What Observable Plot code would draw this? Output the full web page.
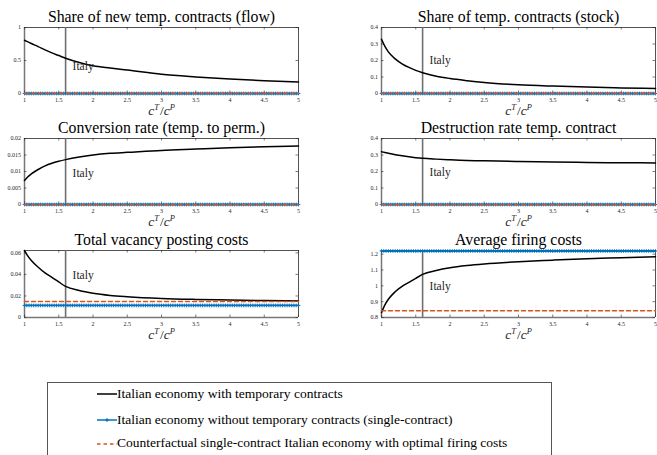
<!DOCTYPE html>
<html><head><meta charset="utf-8">
<script src="https://cdn.jsdelivr.net/npm/d3@7"></script>
<script src="https://cdn.jsdelivr.net/npm/@observablehq/plot@0.6"></script>
<style>
html,body{margin:0;padding:0;background:#fff;}
#wrap{position:relative;width:657px;height:455px;overflow:hidden;background:#fff;font-family:"Liberation Serif";}
#wrap svg{position:absolute;}
#wrap svg text{font-family:"Liberation Serif";}
.leg{position:absolute;font-family:"Liberation Serif";font-size:13.5px;line-height:14px;color:#000;white-space:nowrap;}
</style></head>
<body><div id="wrap"></div>
<script>
// ---- data ----
const xGrid = [1, 1.05, 1.1, 1.2, 1.3, 1.4, 1.5, 1.6, 1.8, 2, 2.25, 2.5, 3, 3.5, 4, 4.5, 5];
const flowShare   = [0.807, 0.782, 0.757, 0.71, 0.66, 0.615, 0.575, 0.535, 0.47, 0.42, 0.385, 0.355, 0.29, 0.25, 0.218, 0.193, 0.173];
const stockShare  = [0.329, 0.285, 0.252, 0.21, 0.18, 0.158, 0.14, 0.126, 0.105, 0.091, 0.078, 0.067, 0.053, 0.045, 0.039, 0.034, 0.03];
const conversion  = [0.0073, 0.0084, 0.0093, 0.0106, 0.0117, 0.0125, 0.0131, 0.0136, 0.0144, 0.015, 0.0155, 0.0158, 0.0164, 0.0168, 0.0172, 0.0175, 0.0177];
const destruction = [0.32, 0.315, 0.31, 0.302, 0.295, 0.289, 0.284, 0.28, 0.275, 0.271, 0.267, 0.265, 0.261, 0.258, 0.255, 0.253, 0.252];
const vacancy     = [0.0622, 0.057, 0.0529, 0.0467, 0.0414, 0.0373, 0.033, 0.0289, 0.025, 0.0225, 0.0205, 0.0193, 0.0177, 0.0168, 0.0162, 0.0157, 0.0154];
const firing      = [0.831, 0.88, 0.915, 0.963, 0.997, 1.022, 1.047, 1.072, 1.097, 1.114, 1.128, 1.138, 1.152, 1.162, 1.171, 1.177, 1.183];
const series = [flowShare, stockShare, conversion, destruction, vacancy, firing];
const titles = ["Share of new temp. contracts (flow)", "Share of temp. contracts (stock)",
  "Conversion rate (temp. to perm.)", "Destruction rate temp. contract",
  "Total vacancy posting costs", "Average firing costs"];
const singleContract = [0, 0, 0, 0, 0.0112, 1.22];      // blue, flat
const counterfactual = [0, 0, 0, 0, 0.0149, 0.842];     // red dashed, flat
const yDomains = [[0, 1], [0, 0.4], [0, 0.02], [0, 0.4], [0, 0.0622], [0.8, 1.223]];
const yTicks = [[0, 0.5, 1], [0, 0.1, 0.2, 0.3, 0.4], [0, 0.005, 0.01, 0.015, 0.02],
  [0, 0.1, 0.2, 0.3, 0.4], [0, 0.02, 0.04, 0.06], [0.8, 0.9, 1, 1.1, 1.2]];
const xTicks = [1, 1.5, 2, 2.5, 3, 3.5, 4, 4.5, 5];
const italyX = 1.6;
const italyLabelY = [0.41, 0.2, 0.0095, 0.195, 0.039, 1.0];
const markerX = d3.range(121).map(i => 1 + i / 30);
const legendLabels = ["Italian economy with temporary contracts",
  "Italian economy without temporary contracts (single-contract)",
  "Counterfactual single-contract Italian economy with optimal firing costs"];

const BLUE = "#0072BD", RED = "#D95319", AX = "#262626", GRAY = "#777777";
const FONT = '"Liberation Serif"';
const wrap = document.getElementById("wrap");

const colLeft = [24, 381];
const rowTop = [26.5, 138, 249.5];
const rowH = [66, 66, 67];

function panel(i) {
  const col = i % 2, row = Math.floor(i / 2);
  const mL = 26, mR = col ? 8 : 32, mT = 26, mB = 28;
  const fw = 274, fh = rowH[row];
  const width = mL + fw + mR, height = mT + fh + mB;
  const curve = xGrid.map((x, j) => ({x, y: series[i][j]}));
  const bl = markerX.map(x => ({x, y: singleContract[i]}));
  const rd = [{x: 1, y: counterfactual[i]}, {x: 5, y: counterfactual[i]}];
  const [y0, y1] = yDomains[i];
  const svg = Plot.plot({
    width, height, marginLeft: mL, marginRight: mR, marginTop: mT, marginBottom: mB,
    x: {domain: [1, 5]},
    y: {domain: yDomains[i]},
    style: {fontFamily: FONT, background: "transparent", overflow: "visible", color: AX},
    marks: [
      Plot.ruleY([y1], {stroke: AX, strokeWidth: 0.8}),
      Plot.ruleX([5], {stroke: AX, strokeWidth: 0.8}),
      Plot.ruleX([1], {stroke: GRAY, strokeWidth: 1.5}),
      Plot.ruleY([y0], {stroke: GRAY, strokeWidth: 1.5}),
      Plot.tickX(xTicks, {x: d => d, insetTop: fh - 2.5, stroke: AX, strokeWidth: 0.6}),
      Plot.tickX(xTicks, {x: d => d, insetBottom: fh - 2.5, stroke: AX, strokeWidth: 0.6}),
      Plot.tickY(yTicks[i], {y: d => d, insetRight: fw - 2.5, stroke: AX, strokeWidth: 0.6}),
      Plot.tickY(yTicks[i], {y: d => d, insetLeft: fw - 2.5, stroke: AX, strokeWidth: 0.6}),
      Plot.axisX({ticks: xTicks, tickSize: 0, tickPadding: 4, fontSize: 6, tickFormat: d => String(d), label: null, fill: AX}),
      Plot.axisY({ticks: yTicks[i], tickSize: 0, tickPadding: 3.5, fontSize: 6, tickFormat: d => String(d), label: null, fill: AX}),
      Plot.ruleX([italyX], {stroke: "#6f6f6f", strokeWidth: 1.6}),
      Plot.line(curve, {x: "x", y: "y", stroke: "black", strokeWidth: 1.5, curve: "monotone-x"}),
      Plot.line(bl, {x: "x", y: "y", stroke: BLUE, strokeWidth: 1.8}),
      Plot.dot(bl, {x: "x", y: "y", symbol: "plus", r: 1.3, stroke: BLUE, strokeWidth: 0.9}),
      Plot.line(rd, {x: "x", y: "y", stroke: RED, strokeWidth: 1.5, strokeDasharray: "4,3"}),
      Plot.text(["Italy"], {x: () => italyX, y: () => italyLabelY[i], text: d => d, dx: 7, textAnchor: "start", fontSize: 11.5, fill: AX}),
      Plot.text([titles[i]], {text: d => d, frameAnchor: "top", lineAnchor: "bottom", dy: -5.5, fontSize: 15.8, fill: "black"}),
      Plot.text(["cT/cP"], {text: d => d, frameAnchor: "bottom", lineAnchor: "bottom", dy: 21, fontSize: 13.5, fill: AX})
    ]
  });
  svg.style.left = (colLeft[col] - mL) + "px";
  svg.style.top = (rowTop[row] - mT) + "px";
  svg.setAttribute("font-family", FONT);
  // superscripts in the x label
  svg.querySelectorAll("text").forEach(t => {
    if (t.textContent === "cT/cP") {
      t.textContent = "";
      const parts = [["c", "italic", null, 0], ["T", "italic", 8.5, -5], ["/", "normal", null, 5], ["c", "italic", null, 0], ["P", "italic", 8.5, -5]];
      parts.forEach(([s, st, fs, dy]) => {
        const ts = document.createElementNS("http://www.w3.org/2000/svg", "tspan");
        ts.textContent = s;
        ts.setAttribute("font-style", st);
        if (fs) ts.setAttribute("font-size", fs);
        if (dy) ts.setAttribute("dy", dy);
        if (s === "/") ts.setAttribute("dx", 1);
        t.appendChild(ts);
      });
    }
  });
  wrap.appendChild(svg);
}
for (let i = 0; i < 6; i++) panel(i);

// ---- legend ----
const box = document.createElement("div");
Object.assign(box.style, {position: "absolute", left: "47px", top: "382px", width: "505px", height: "120px", border: "1px solid #555", boxSizing: "border-box", background: "#fff"});
wrap.appendChild(box);
const rowsY = [394, 420, 443.5];
legendLabels.forEach((lab, k) => {
  const s = d3.create("svg").attr("width", 22).attr("height", 10)
    .style("left", "96px").style("top", (rowsY[k] - 5) + "px");
  if (k === 0) s.append("line").attr("x1", 1).attr("x2", 21).attr("y1", 5).attr("y2", 5).attr("stroke", "black").attr("stroke-width", 1.5);
  if (k === 1) {
    s.append("line").attr("x1", 1).attr("x2", 21).attr("y1", 5).attr("y2", 5).attr("stroke", BLUE).attr("stroke-width", 1.5);
    s.append("path").attr("d", "M9,5H13M11,3V7").attr("stroke", BLUE).attr("stroke-width", 1);
  }
  if (k === 2) s.append("line").attr("x1", 1).attr("x2", 21).attr("y1", 5).attr("y2", 5).attr("stroke", RED).attr("stroke-width", 1.3).attr("stroke-dasharray", "3.5,3");
  wrap.appendChild(s.node());
  const d = document.createElement("div");
  d.className = "leg";
  d.textContent = lab;
  d.style.left = "117px";
  d.style.top = (rowsY[k] - 7.5) + "px";
  wrap.appendChild(d);
});
</script></body></html>
